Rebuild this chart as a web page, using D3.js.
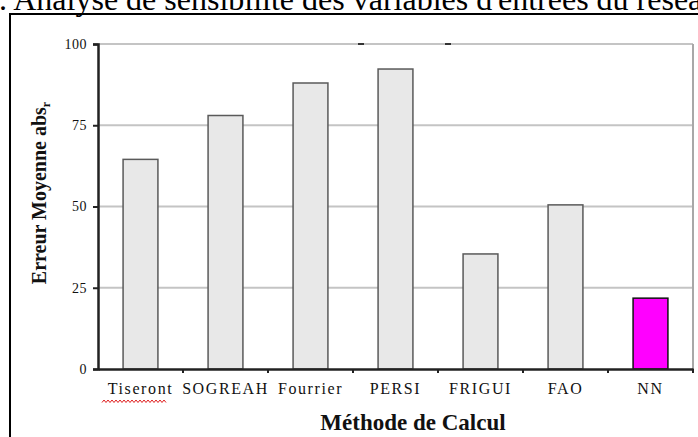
<!DOCTYPE html>
<html><head><meta charset="utf-8">
<script src="https://cdn.jsdelivr.net/npm/d3@7"></script>
<style>body{margin:0;background:#fff;}svg{display:block;}</style>
</head><body>
<svg id="c" width="698" height="437"></svg>
<script>
const categories = ["Tiseront", "SOGREAH", "Fourrier", "PERSI", "FRIGUI", "FAO", "NN"];
const values = [64.5, 78, 88, 92.3, 35.4, 50.5, 21.8];
const barColors = ["#e8e8e8", "#e8e8e8", "#e8e8e8", "#e8e8e8", "#e8e8e8", "#e8e8e8", "#ff00ff"];
const yTicks = [0, 25, 50, 75, 100];
const titleText = "3. Analyse de sensibilité des variables d'entrées du réseau";
const yLabel = "Erreur Moyenne abs";
const yLabelSub = "r";
const xLabel = "Méthode de Calcul";

const svg = d3.select("#c");
const L = 98, R = 693, T = 44, B = 369;

// title (clipped at top, as in the reference)
svg.append("text").attr("x", -17).attr("y", 10)
  .attr("font-family", "Liberation Serif, Times New Roman, serif").attr("font-size", 32)
  .attr("fill", "#000").text(titleText);

// outer frame
svg.append("rect").attr("x", 10).attr("y", 14).attr("width", 720).attr("height", 460)
  .attr("fill", "none").attr("stroke", "#000").attr("stroke-width", 2);

const x = d3.scaleBand().domain(categories).range([L, R]).paddingInner(0.59).paddingOuter(0.295);
const y = d3.scaleLinear().domain([0, 100]).range([B, T]);

// gridlines
svg.append("g").selectAll("line").data(yTicks.filter(d => d > 0)).join("line")
  .attr("x1", L).attr("x2", R).attr("y1", d => y(d)).attr("y2", d => y(d))
  .attr("stroke", "#c4c4c4").attr("stroke-width", 2);
// right border
svg.append("line").attr("x1", R).attr("x2", R).attr("y1", y(100)).attr("y2", B)
  .attr("stroke", "#a8a8a8").attr("stroke-width", 2);
// small dark marks on top gridline
svg.append("g").selectAll("line").data([361, 448]).join("line")
  .attr("x1", d => d - 3).attr("x2", d => d + 3).attr("y1", y(100)).attr("y2", y(100))
  .attr("stroke", "#333").attr("stroke-width", 2);

// bars
svg.append("g").selectAll("rect").data(categories).join("rect")
  .attr("x", d => x(d)).attr("width", x.bandwidth())
  .attr("y", (d, i) => y(values[i])).attr("height", (d, i) => B - y(values[i]))
  .attr("fill", (d, i) => barColors[i])
  .attr("stroke", (d, i) => i === 6 ? "#111" : "#5a5a5a").attr("stroke-width", 1.5);

// y axis
const ya = svg.append("g").attr("transform", `translate(${L},0)`)
  .call(d3.axisLeft(y).tickValues(yTicks).tickSize(5).tickPadding(6));
ya.select(".domain").attr("stroke", "#222").attr("stroke-width", 2.5);
ya.selectAll(".tick line").attr("stroke", "#222").attr("stroke-width", 2);
ya.selectAll("text").attr("font-family", "Liberation Serif, Times New Roman, serif")
  .attr("font-size", 14).attr("fill", "#111").attr("letter-spacing", "0.5px");

// x axis
const xa = svg.append("g").attr("transform", `translate(0,${B})`)
  .call(d3.axisBottom(x).tickSize(0).tickPadding(14));
xa.select(".domain").attr("stroke", "#222").attr("stroke-width", 2.5);
xa.selectAll("text").attr("font-family", "Liberation Serif, Times New Roman, serif")
  .attr("font-size", 16).attr("fill", "#111").attr("letter-spacing", "1.6px");
// x boundary ticks
const bounds = categories.map(c => x(c) - x.step() * x.paddingInner() / 2).slice(1).concat([R]);
svg.append("g").selectAll("line").data(bounds).join("line")
  .attr("x1", d => d).attr("x2", d => d).attr("y1", B).attr("y2", B + 4)
  .attr("stroke", "#222").attr("stroke-width", 2);

// spell-check squiggle under first label
const sq = [];
for (let px = 102, k = 0; px <= 166; px += 2, k++) sq.push([px, k % 2 ? 400 : 402.5]);
svg.append("path").attr("d", d3.line()(sq)).attr("fill", "none")
  .attr("stroke", "#e02020").attr("stroke-width", 1);

// axis titles
const yt = svg.append("text").attr("transform", "translate(46,193) rotate(-90)")
  .attr("text-anchor", "middle").attr("font-family", "Liberation Serif, Times New Roman, serif")
  .attr("font-weight", "bold").attr("font-size", 20).attr("fill", "#111");
yt.append("tspan").text(yLabel);
yt.append("tspan").attr("font-size", 12).attr("dy", 4).text(yLabelSub);

svg.append("text").attr("x", 413).attr("y", 430).attr("text-anchor", "middle")
  .attr("font-family", "Liberation Serif, Times New Roman, serif").attr("font-weight", "bold")
  .attr("font-size", 23).attr("fill", "#111").text(xLabel);
</script>
</body></html>
